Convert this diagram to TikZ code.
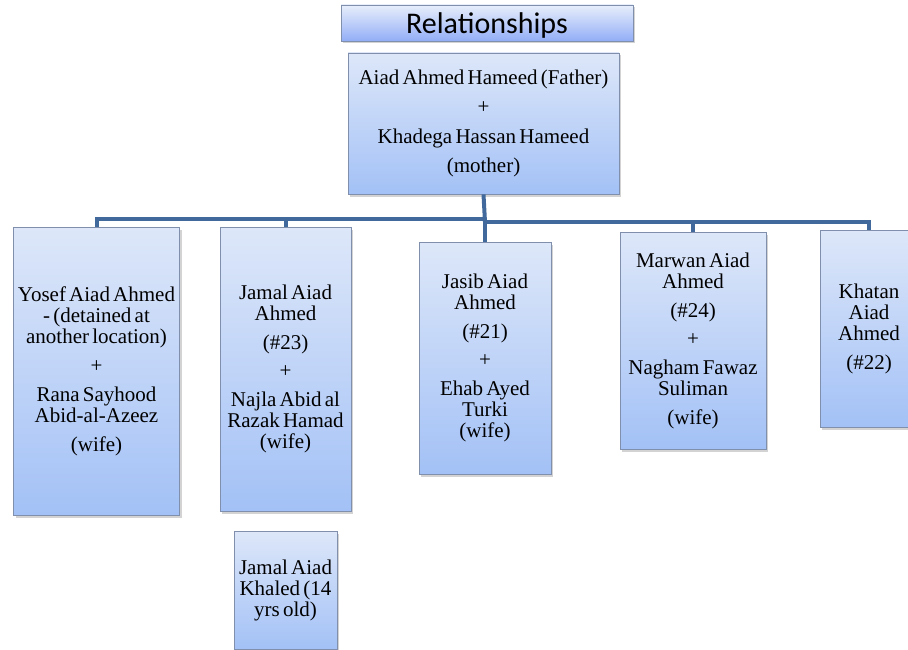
\documentclass[tikz,border=0pt]{standalone}
\usepackage{fontspec}
\setmainfont{Liberation Serif}
\newfontfamily\titlefont{Carlito}
\newcommand\bodyfnt{\rmfamily\fontsize{21}{21}\selectfont\spaceskip=3.2pt plus 1pt minus 1pt\relax}
\usetikzlibrary{shadows}
\definecolor{boxtop}{HTML}{DDE7F9}
\definecolor{boxbot}{HTML}{A3C1F6}
\definecolor{boxline}{HTML}{8090AC}
\definecolor{conn}{HTML}{41699B}
\tikzset{
  person/.style={draw=boxline, line width=0.8pt, top color=boxtop, bottom color=boxbot,
    align=center, inner sep=1pt, font=\bodyfnt,
    drop shadow={shadow xshift=2pt, shadow yshift=-2.5pt, opacity=0.35}},
  titlebox/.style={person, top color=boxtop!70!white, bottom color=boxbot!90!blue,
    font=\titlefont\fontsize{30}{30}\selectfont, text depth=0pt},
  link/.style={draw=conn, line width=4pt}
}
\begin{document}
\begin{tikzpicture}[x=1pt,y=-1pt]
\useasboundingbox (0,0) rectangle (908,650);
\clip (0,0) rectangle (908,650);
\node[titlebox, minimum width=292pt, minimum height=36pt] (title) at (487,23) {Relationships};
\node[person, minimum width=271pt, minimum height=141pt] (parent) at (483.5,123.5)
  {Aiad Ahmed Hameed (Father)\\[8.5pt] +\\[8.5pt] Khadega Hassan Hameed\\[8.5pt] (mother)};
\node[person, minimum width=166pt, minimum height=288pt] (yosef) at (96.5,371)
  {Yosef Aiad Ahmed\\ - (detained at\\ another location)\\[8pt] +\\[8pt] Rana Sayhood\\ Abid-al-Azeez\\[8pt] (wife)};
\node[person, minimum width=131pt, minimum height=284pt] (jamal) at (285.5,369)
  {Jamal Aiad\\ Ahmed\\[8pt] (\#23)\\[7pt] +\\[8pt] Najla Abid al\\ Razak Hamad\\ (wife)};
\node[person, minimum width=132pt, minimum height=232pt] (jasib) at (485,358)
  {Jasib Aiad\\ Ahmed\\[8pt] (\#21)\\[7pt] +\\[8pt] Ehab Ayed\\ Turki\\ (wife)};
\node[person, minimum width=146pt, minimum height=217pt] (marwan) at (693,340.5)
  {Marwan Aiad\\ Ahmed\\[8pt] (\#24)\\[7pt] +\\[8pt] Nagham Fawaz\\ Suliman\\[8pt] (wife)};
\node[person, minimum width=98pt, minimum height=197pt] (khatan) at (869,328.5)
  {Khatan\\ Aiad\\ Ahmed\\[8pt] (\#22)};
\node[person, minimum width=103pt, minimum height=118pt] (child) at (285.5,590)
  {Jamal Aiad\\ Khaled (14\\ yrs old)};
\coordinate (busL) at (485,219);
\coordinate (busR) at (485,222);
\draw[link] (parent.south) -- (busR);
\draw[link] (busL) -| (yosef.north);
\draw[link] (busL) -| (jamal.north);
\draw[link] (busR) -- (jasib.north);
\draw[link] (busR) -| (marwan.north);
\draw[link] (busR) -| (khatan.north);
\end{tikzpicture}
\end{document}
